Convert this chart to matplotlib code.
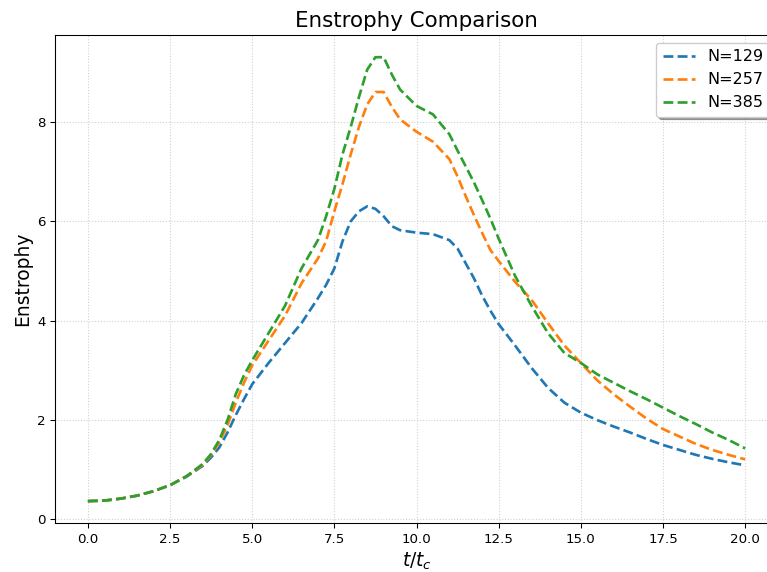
import matplotlib
matplotlib.use("Agg")
import matplotlib.pyplot as plt

# time in units of t_c
t = [0, 0.5, 1, 1.5, 2, 2.5, 3, 3.5, 3.75, 4, 4.25, 4.5, 4.75, 5, 5.5, 6,
     6.5, 7, 7.25, 7.5, 7.75, 8, 8.25, 8.5, 8.75, 9, 9.25, 9.5, 10, 10.5,
     11, 11.25, 11.5, 11.75, 12, 12.25, 12.5, 13, 13.5, 14, 14.5, 15, 15.5,
     16, 16.5, 17, 17.5, 18, 18.5, 19, 19.5, 20]

ens_129 = [0.37, 0.38, 0.42, 0.48, 0.57, 0.69, 0.86, 1.08, 1.25, 1.45, 1.75,
           2.1, 2.42, 2.72, 3.15, 3.55, 3.95, 4.45, 4.72, 5.05, 5.6, 6.0,
           6.2, 6.3, 6.25, 6.1, 5.9, 5.82, 5.77, 5.74, 5.62, 5.45, 5.15,
           4.85, 4.5, 4.2, 3.93, 3.5, 3.05, 2.65, 2.35, 2.15, 2.0, 1.87,
           1.75, 1.62, 1.5, 1.4, 1.3, 1.22, 1.15, 1.09]

ens_257 = [0.37, 0.38, 0.42, 0.48, 0.57, 0.69, 0.87, 1.1, 1.3, 1.55, 1.9,
           2.35, 2.75, 3.1, 3.6, 4.1, 4.75, 5.25, 5.6, 6.2, 6.75, 7.35, 7.9,
           8.35, 8.6, 8.6, 8.3, 8.05, 7.8, 7.6, 7.25, 6.9, 6.5, 6.12, 5.76,
           5.42, 5.2, 4.78, 4.42, 3.95, 3.5, 3.15, 2.8, 2.52, 2.27, 2.03,
           1.82, 1.67, 1.52, 1.4, 1.3, 1.21]

ens_385 = [0.37, 0.38, 0.42, 0.48, 0.57, 0.69, 0.87, 1.12, 1.32, 1.6, 2.0,
           2.52, 2.9, 3.2, 3.75, 4.3, 5.05, 5.62, 6.1, 6.65, 7.35, 7.9, 8.5,
           9.05, 9.3, 9.3, 8.95, 8.65, 8.32, 8.15, 7.75, 7.42, 7.1, 6.78,
           6.42, 6.05, 5.65, 4.9, 4.3, 3.75, 3.35, 3.15, 2.92, 2.75, 2.58,
           2.42, 2.25, 2.08, 1.92, 1.75, 1.6, 1.43]

labels = ["N=129", "N=257", "N=385"]

fig = plt.figure(figsize=(767 / 96, 572 / 96), dpi=96)
ax = fig.add_axes([55 / 767, (572 - 523.3) / 572, (778 - 55) / 767, (523.3 - 35) / 572])

for ens, lab in zip([ens_129, ens_257, ens_385], labels):
    ax.plot(t, ens, "--", lw=2, label=lab)

ax.set_title("Enstrophy Comparison", fontsize=16)
ax.set_xlabel("$t/t_c$", fontsize=14)
ax.set_ylabel("Enstrophy", fontsize=14)
ax.grid(True, linestyle=":", alpha=0.6)
ax.legend(loc="upper right", fontsize=12, shadow=True)

fig.savefig("out.png", dpi=96)
